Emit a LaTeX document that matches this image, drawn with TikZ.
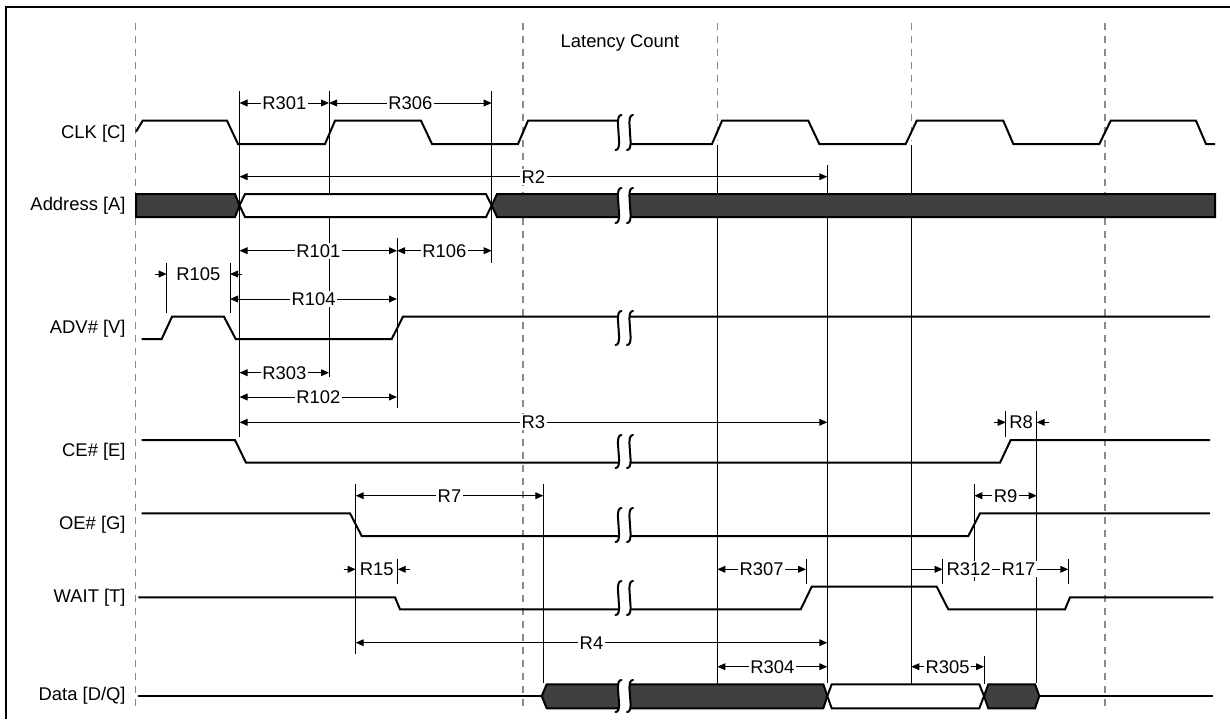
\documentclass[tikz,border=0pt]{standalone}
\usepackage{fontspec}
\setmainfont{Liberation Sans}
\usetikzlibrary{arrows.meta}
\definecolor{busdark}{HTML}{404040}
\definecolor{gridgray}{HTML}{8A8A8A}
\tikzset{
  sig/.style={line width=1pt, line join=miter},
  busd/.style={sig, fill=busdark, draw=black},
  busw/.style={sig, fill=white, draw=black},
  thinv/.style={line width=0.5pt},
  edgeline/.style={line width=0.55pt},
  gridln/.style={line width=0.6pt, gridgray, dash pattern=on 3.5pt off 3pt},
  tipT/.tip={Triangle[length=4pt,width=3.4pt]},
  dimline/.style={line width=0.5pt},
  lbl/.style={fill=white, inner sep=0.8pt, font=\fontsize{9.2}{11}\selectfont},
  siglbl/.style={anchor=east, inner sep=0pt, font=\fontsize{9.2}{11}\selectfont},
}
% integral-like break stroke: centre x, top y, bottom y
\newcommand\brkS[3]{\draw[sig,line cap=round]
  ({#1+3},#2) .. controls ({#1+0.3},{#2}) and ({#1-0.6},{#2+3}) .. ({#1-0.6},{#2+8})
  .. controls ({#1-0.6},{(#2+#3)/2}) and ({#1+0.6},{(#2+#3)/2}) .. ({#1+0.6},{#3-8})
  .. controls ({#1+0.6},{#3-3}) and ({#1-0.3},{#3}) .. ({#1-3},#3);}
\newcommand\brk[2]{\fill[white] (618,#1) rectangle (630,#2); \brkS{618.5}{#1}{#2}\brkS{630}{#1}{#2}}
\newcommand\dimab[5]{\draw[dimline,tipT-tipT] (#3,#2) -- (#4,#2) node[lbl,midway] (#1) {#5};}
\newcommand\dimout[5]{%
  \draw[dimline,-tipT] ({#3-12},#2) -- (#3,#2);
  \draw[dimline,-tipT] ({#4+12},#2) -- (#4,#2);
  \node[lbl] (#1) at ({(#3+#4)/2},#2) {#5};}
\begin{document}
\begin{tikzpicture}[x=0.5pt,y=-0.5pt]
\useasboundingbox (0,0) rectangle (1230,719);
% frame
\draw[line width=1pt] (6,719) -- (6,6.5) -- (1230,6.5);
% dashed grid
\foreach \gx in {135.5,523,1105}
  \draw[gridln] (\gx,22.7) -- (\gx,710);
\foreach \gx in {717.3,911.3}
  \draw[gridln] (\gx,22.7) -- (\gx,140);
% solid verticals at clock edges
\draw[edgeline] (717.3,145) -- (717.3,708);
\draw[edgeline] (911.3,145) -- (911.3,708);
% thin verticals
\draw[thinv] (239.5,91) -- (239.5,437);
\draw[thinv] (329,91) -- (329,377);
\draw[thinv] (397,238) -- (397,408);
\draw[thinv] (491.7,91) -- (491.7,263);
\draw[thinv] (166.7,263) -- (166.7,313);
\draw[thinv] (230,263) -- (230,313);
\draw[thinv] (355.7,484) -- (355.7,654);
\draw[thinv] (397.7,559) -- (397.7,584);
\draw[thinv] (543.3,484) -- (543.3,683);
\draw[thinv] (827.3,165) -- (827.3,683);
\draw[thinv] (1005.7,411) -- (1005.7,437);
\draw[thinv] (1036.7,411) -- (1036.7,683);
\draw[thinv] (974.3,484) -- (974.3,581);
\draw[thinv] (806,559) -- (806,584);
\draw[thinv] (942.7,559) -- (942.7,584);
\draw[thinv] (1068.3,559) -- (1068.3,584);
\draw[thinv] (984,656) -- (984,684);

% signal labels
\node[siglbl] (lclk) at (126,134) {CLK [C]};
\node[siglbl] (ladr) at (126,206) {Address [A]};
\node[siglbl] (ladv) at (126,329) {ADV\# [V]};
\node[siglbl] (lce) at (126,452) {CE\# [E]};
\node[siglbl] (loe) at (126,525) {OE\# [G]};
\node[siglbl] (lwait) at (126,598) {WAIT [T]};
\node[siglbl] (ldata) at (126,696) {Data [D/Q]};
\node[lbl,fill=none] (lat) at (620,43) {Latency Count};

% CLK
\draw[sig] (136,131.7) -- (142.7,120.7) -- (227,120.7) -- (238,144) -- (325,144) -- (335,120.7) -- (421,120.7) -- (432,144) -- (518,144) -- (528,120.7) -- (618,120.7)
  (630,144) -- (712,144) -- (722,120.7) -- (808.3,120.7) -- (819.3,144) -- (905.7,144) -- (916.7,120.7) -- (1003.3,120.7) -- (1013.3,144) -- (1099.3,144) -- (1110.7,120.7) -- (1196,120.7) -- (1206,144) -- (1215,144);
\brk{115}{150}
% Address
\draw[busd] (136,194) -- (235,194) -- (239.5,205.5) -- (235,217) -- (136,217) -- cycle;
\draw[busw] (239.5,205.5) -- (245,194) -- (486,194) -- (491.7,205.5) -- (486,217) -- (245,217) -- cycle;
\draw[busd] (491.7,205.5) -- (497,194) -- (1215,194) -- (1215,217) -- (497,217) -- cycle;
\brk{188}{223}
% ADV
\draw[sig] (141.7,339) -- (161.7,339) -- (172,316.7) -- (224,316.7) -- (235.7,339) -- (391.7,339) -- (403,316.7) -- (1210,316.7);
\brk{311}{345}
% CE
\draw[sig] (141.7,440) -- (235,440) -- (246,462.7) -- (1000,462.7) -- (1010.7,440) -- (1210,440);
\brk{435}{468}
% OE
\draw[sig] (141.7,513.3) -- (350,513.3) -- (361.7,536) -- (968.3,536) -- (980,513.3) -- (1210,513.3);
\brk{508}{542}
% WAIT
\draw[sig] (138.3,597.3) -- (395,597.3) -- (400,609.3) -- (800.7,609.3) -- (811.7,586.7) -- (936.7,586.7) -- (948.3,609.3) -- (1065,609.3) -- (1070,597.3) -- (1213.3,597.3);
\brk{581}{615}
% Data
\draw[sig] (138.3,696) -- (541.7,696);
\draw[busd] (541.7,696) -- (546.7,684.3) -- (823.3,684.3) -- (827.3,696) -- (823.3,708.3) -- (546.7,708.3) -- cycle;
\draw[busw] (827.3,696) -- (831.7,684.3) -- (979.3,684.3) -- (984,696) -- (979.3,708.3) -- (831.7,708.3) -- cycle;
\draw[busd] (984,696) -- (988.3,684.3) -- (1035,684.3) -- (1039.3,696) -- (1035,708.3) -- (988.3,708.3) -- cycle;
\draw[sig] (1039.3,696) -- (1213.3,696);
\brk{680}{712}

% dimensions
\dimab{r301}{103}{239.5}{329}{R301}
\dimab{r306}{103}{329}{491.7}{R306}
\dimab{r2}{176.7}{239.5}{827.3}{R2}
\dimab{r101}{250.7}{239.5}{397}{R101}
\dimab{r106}{250.7}{397}{491.7}{R106}
\dimout{r105}{274}{166.7}{230}{R105}
\dimab{r104}{299}{230}{397}{R104}
\dimab{r303}{372.7}{239.5}{329}{R303}
\dimab{r102}{397}{239.5}{397}{R102}
\dimab{r3}{422.3}{239.5}{827.3}{R3}
\dimout{r8}{422.3}{1005.7}{1036.7}{R8}
\dimab{r7}{495.7}{355.7}{543.3}{R7}
\dimab{r9}{495.7}{974.3}{1036.7}{R9}
\dimout{r15}{569.3}{355.7}{397.7}{R15}
\dimab{r307}{569.3}{717.3}{806}{R307}
\draw[dimline,-tipT] (974.3,569.3) -- (1068.3,569.3) node[lbl,pos=0.47] (r17) {R17};
\draw[dimline,-tipT] (911.3,569.3) -- (942.7,569.3);
\node[lbl,anchor=west] (r312) at (944.5,569.3) {R312};
\dimab{r4}{642.7}{355.7}{827.3}{R4}
\dimab{r304}{666.7}{717.3}{827.3}{R304}
\dimab{r305}{666.7}{911.3}{984}{R305}
\end{tikzpicture}
\end{document}
